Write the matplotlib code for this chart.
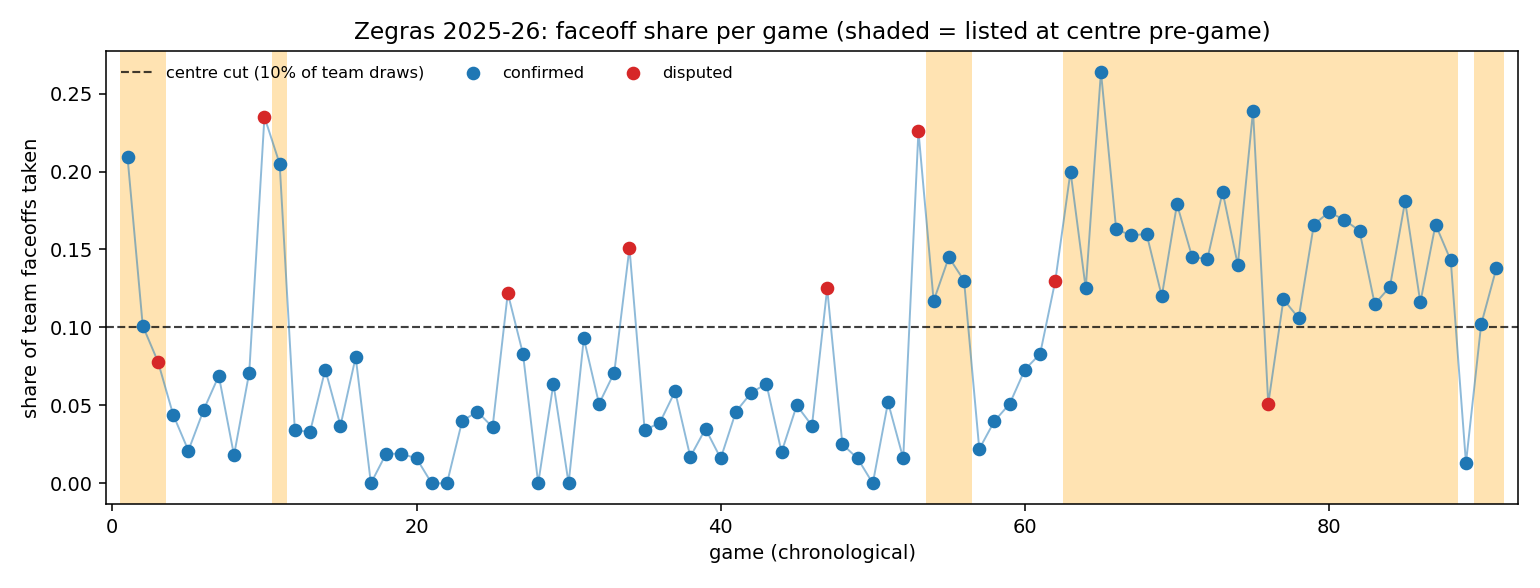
import numpy as np
import matplotlib
matplotlib.use("Agg")
import matplotlib.pyplot as plt

# faceoff share per game, games 1..91
games = np.arange(1, 92)
share = [
    0.209, 0.101, 0.078, 0.044, 0.021, 0.047, 0.069, 0.018, 0.071, 0.235,
    0.205, 0.034, 0.033, 0.073, 0.037, 0.081, 0.000, 0.019, 0.019, 0.016,
    0.000, 0.000, 0.040, 0.046, 0.036, 0.122, 0.083, 0.000, 0.064, 0.000,
    0.093, 0.051, 0.071, 0.151, 0.034, 0.039, 0.059, 0.017, 0.035, 0.016,
    0.046, 0.058, 0.064, 0.020, 0.050, 0.037, 0.125, 0.025, 0.016, 0.000,
    0.052, 0.016, 0.226, 0.117, 0.145, 0.130, 0.022, 0.040, 0.051, 0.073,
    0.083, 0.130, 0.200, 0.125, 0.264, 0.163, 0.159, 0.160, 0.120, 0.179,
    0.145, 0.144, 0.187, 0.140, 0.239, 0.051, 0.118, 0.106, 0.166, 0.174,
    0.169, 0.162, 0.115, 0.126, 0.181, 0.116, 0.166, 0.143, 0.013, 0.102,
    0.138,
]
disputed_games = [3, 10, 26, 34, 47, 53, 62, 76]
# stretches listed at centre pre-game (first game, last game)
centre_runs = [(1, 3), (11, 11), (54, 56), (63, 88), (90, 91)]
centre_cut = 0.10

share = np.array(share)
disputed = np.isin(games, disputed_games)

fig, ax = plt.subplots(figsize=(11, 4.2), dpi=140)

for a, b in centre_runs:
    ax.axvspan(a - 0.5, b + 0.5, color="orange", alpha=0.3, lw=0, zorder=0)

ax.plot(games, share, "-", color="tab:blue", alpha=0.5, lw=1, zorder=2)
ax.axhline(centre_cut, ls="--", color="k", alpha=0.75, lw=1.1,
           label="centre cut (10% of team draws)", zorder=1)
ax.scatter(games[~disputed], share[~disputed], s=36, color="tab:blue",
           zorder=3, label="confirmed")
ax.scatter(games[disputed], share[disputed], s=36, color="tab:red",
           zorder=3, label="disputed")

ax.set_xlim(-0.4, 92.45)
ax.set_xlabel("game (chronological)")
ax.set_ylabel("share of team faceoffs taken")
ax.set_title("Zegras 2025-26: faceoff share per game (shaded = listed at centre pre-game)")
ax.legend(loc="upper left", ncol=3, frameon=False, fontsize="small")

plt.subplots_adjust(left=0.069, right=0.986, top=0.913, bottom=0.143)
plt.savefig("out.png")
